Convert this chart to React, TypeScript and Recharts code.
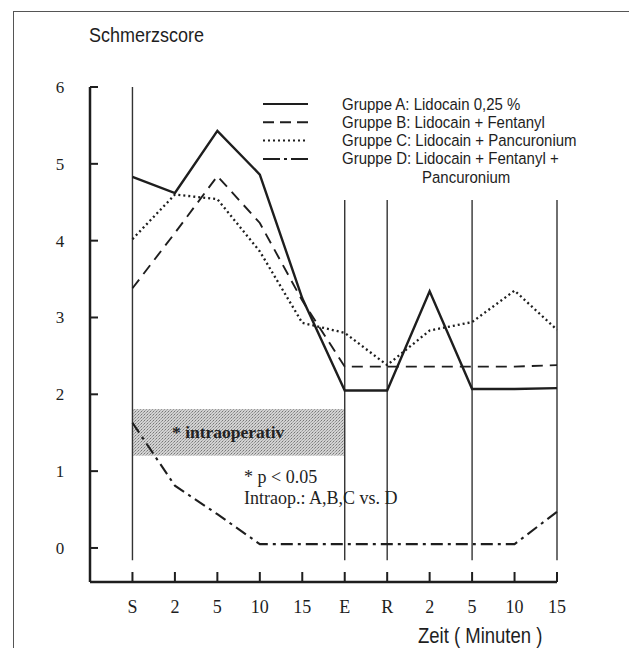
import React from 'react';
import { LineChart, Line, XAxis, YAxis, ReferenceLine, ReferenceArea } from 'recharts';

// time points: start, intraop minutes, end, recovery, postop minutes
const categories = ['S', '2', '5', '10', '15', 'E', 'R', '2', '5', '10', '15'];

const groupA = [4.83, 4.62, 5.43, 4.86, 3.25, 2.05, 2.05, 3.34, 2.07, 2.07, 2.08];
const groupB = [3.38, 4.1, 4.84, 4.23, 3.22, 2.36, 2.36, 2.36, 2.36, 2.36, 2.38];
const groupC = [4.02, 4.6, 4.54, 3.86, 2.93, 2.8, 2.38, 2.83, 2.94, 3.35, 2.84];
const groupD = [1.63, 0.81, 0.44, 0.05, 0.05, 0.05, 0.05, 0.05, 0.05, 0.05, 0.47];

const yTicks = [0, 1, 2, 3, 4, 5, 6];
const xTicks = categories.map((_, i) => i);
const dividers = [5, 6, 8, 10];

const legendLabels = [
  'Gruppe A: Lidocain 0,25 %',
  'Gruppe B: Lidocain + Fentanyl',
  'Gruppe C: Lidocain + Pancuronium',
  'Gruppe D: Lidocain + Fentanyl +',
];
const legendDash = ['', '11 6', '2 3', '17 4 3 4'];

const ink = '#1e1e1e';
const serif = "'Liberation Serif', 'Times New Roman', serif";
const sans = "'Liberation Sans', Arial, sans-serif";

const chartData = categories.map((label, i) => ({
  idx: i,
  label,
  a: groupA[i],
  b: groupB[i],
  c: groupC[i],
  d: groupD[i],
}));

// ticks point inwards, labels stay outside
const XTick = ({ x, y, payload }: any) => (
  <g>
    <line x1={x} y1={y} x2={x} y2={y - 10} stroke={ink} strokeWidth={2} />
    <text x={x} y={y + 31} textAnchor="middle" fontFamily={serif} fontSize={18} fill={ink}>
      {categories[payload.value]}
    </text>
  </g>
);

const YTick = ({ x, y, payload }: any) => (
  <g>
    <line x1={x} y1={y} x2={x + 8} y2={y} stroke={ink} strokeWidth={2} />
    <text x={x - 30} y={y + 6} textAnchor="middle" fontFamily={serif} fontSize={17} fill={ink}>
      {payload.value}
    </text>
  </g>
);

// scanned sans text is a bit taller than it is wide
const Tall = ({ x, y, size, children }: any) => (
  <text
    transform={`translate(${x},${y}) scale(1,1.15)`}
    fontFamily={sans}
    fontSize={size}
    fill={ink}
  >
    {children}
  </text>
);

const App = () => {
  return (
    <div
      style={{
        position: 'absolute',
        left: 0,
        top: 0,
        width: 629,
        height: 648,
        overflow: 'hidden',
        background: '#fff',
      }}
    >
      <div
        style={{
          position: 'absolute',
          left: 13,
          top: 11,
          width: 700,
          height: 700,
          border: '1.5px solid #555',
        }}
      />

      <div style={{ position: 'absolute', left: 0, top: 0 }}>
        <LineChart
          width={629}
          height={648}
          data={chartData}
          margin={{ top: 87, right: 72, left: 30, bottom: 26 }}
        >
          <defs>
            <pattern id="stipple" width="3" height="3" patternUnits="userSpaceOnUse">
              <rect width="3" height="3" fill="#d2d2d2" />
              <rect width="1" height="1" fill="#777" />
              <rect x="2" y="1" width="1" height="1" fill="#999" />
              <rect x="1" y="2" width="1" height="1" fill="#aaa" />
            </pattern>
          </defs>
          <XAxis
            dataKey="idx"
            type="number"
            domain={[-1, 10]}
            ticks={xTicks}
            interval={0}
            tick={<XTick />}
            tickLine={false}
            tickSize={0}
            tickMargin={0}
            axisLine={{ stroke: ink, strokeWidth: 2.5 }}
            height={40}
          />
          <YAxis
            type="number"
            domain={[-0.443, 6]}
            ticks={yTicks}
            interval={0}
            tick={<YTick />}
            tickLine={false}
            tickSize={0}
            tickMargin={0}
            axisLine={{ stroke: ink, strokeWidth: 2.5 }}
            width={60}
          />
          <ReferenceArea
            x1={0}
            x2={5}
            y1={1.2}
            y2={1.81}
            fill="url(#stipple)"
            fillOpacity={1}
            stroke="none"
          />
          <ReferenceLine
            segment={[{ x: 0, y: 6 }, { x: 0, y: -0.16 }]}
            stroke="#333"
            strokeWidth={1.4}
          />
          {dividers.map((i) => (
            <ReferenceLine
              key={i}
              segment={[{ x: i, y: 4.53 }, { x: i, y: -0.16 }]}
              stroke="#333"
              strokeWidth={1.4}
            />
          ))}
          <Line type="linear" dataKey="a" stroke={ink} strokeWidth={2.4} dot={false} isAnimationActive={false} />
          <Line type="linear" dataKey="b" stroke={ink} strokeWidth={1.9} strokeDasharray="11 7" dot={false} isAnimationActive={false} />
          <Line type="linear" dataKey="c" stroke={ink} strokeWidth={2.3} strokeDasharray="2 3" dot={false} isAnimationActive={false} />
          <Line type="linear" dataKey="d" stroke={ink} strokeWidth={2.1} strokeDasharray="12 5 3 5" dot={false} isAnimationActive={false} />
        </LineChart>
      </div>

      <svg
        width={629}
        height={648}
        style={{ position: 'absolute', left: 0, top: 0, pointerEvents: 'none' }}
      >
        <Tall x={89} y={42} size={18}>
          Schmerzscore
        </Tall>

        {legendLabels.map((label, i) => (
          <g key={label}>
            <line
              x1={263}
              x2={308}
              y1={104 + i * 18.3}
              y2={104 + i * 18.3}
              stroke={ink}
              strokeWidth={2}
              strokeDasharray={legendDash[i] || undefined}
            />
            <Tall x={342} y={109.5 + i * 18.3} size={15}>
              {label}
            </Tall>
          </g>
        ))}
        <Tall x={422} y={182.5} size={15}>
          Pancuronium
        </Tall>

        <text x={172} y={438} fontFamily={serif} fontSize={17.5} fontWeight="bold" fill="#222">
          * intraoperativ
        </text>
        <text x={244} y={483} fontFamily={serif} fontSize={18} fill={ink}>
          * p &lt; 0.05
        </text>
        <text x={244} y={504} fontFamily={serif} fontSize={18} fill={ink}>
          Intraop.: A,B,C vs. D
        </text>

        <Tall x={418} y={643} size={18.5}>
          Zeit ( Minuten )
        </Tall>
      </svg>
    </div>
  );
};

export default App;
